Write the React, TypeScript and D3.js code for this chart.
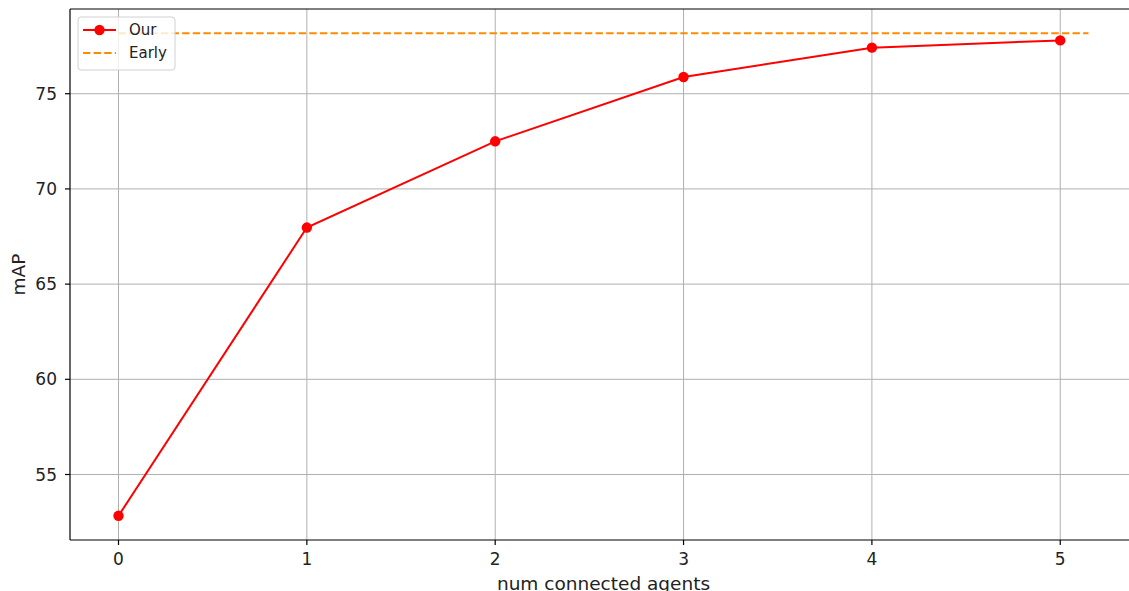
import React from "react";
import * as d3 from "d3";

const agents = [0, 1, 2, 3, 4, 5];
const ourMAP = [52.83, 67.97, 72.5, 75.88, 77.42, 77.8];
const earlyMAP = 78.18;
const earlyRange = [0, 5.15];
const xTicks = [0, 1, 2, 3, 4, 5];
const yTicks = [55, 60, 65, 70, 75];

const W = 1129;
const H = 591;
const left = 70;
const right = 1137;
const top = 9;
const bottom = 540;

export default function App() {
  const x = d3.scaleLinear().domain([-0.2575, 5.4075]).range([left, right]);
  const y = d3.scaleLinear().domain([51.56, 79.45]).range([bottom, top]);
  const line = d3
    .line<number>()
    .x((_, i) => x(agents[i]))
    .y((d) => y(d));
  const font = "DejaVu Sans, sans-serif";
  return (
    <svg
      width={W}
      height={H}
      style={{ position: "absolute", left: 0, top: 0, background: "#fff" }}
      fontFamily={font}
    >
      <defs>
        <clipPath id="plot">
          <rect x={left} y={top} width={right - left} height={bottom - top} />
        </clipPath>
      </defs>
      <rect x={0} y={0} width={W} height={H} fill="#fff" />
      {/* grid */}
      <g stroke="#b0b0b0" strokeWidth={1}>
        {xTicks.map((t) => (
          <line key={"gx" + t} x1={x(t)} x2={x(t)} y1={top} y2={bottom} />
        ))}
        {yTicks.map((t) => (
          <line key={"gy" + t} x1={left} x2={right} y1={y(t)} y2={y(t)} />
        ))}
      </g>
      {/* early line */}
      <g clipPath="url(#plot)">
        <line
          x1={x(earlyRange[0])}
          x2={x(earlyRange[1])}
          y1={y(earlyMAP)}
          y2={y(earlyMAP)}
          stroke="#ff8c00"
          strokeWidth={2}
          strokeDasharray="7.4 3.2"
        />
        <path d={line(ourMAP) || ""} fill="none" stroke="#ff0000" strokeWidth={2} />
        {ourMAP.map((v, i) => (
          <circle key={i} cx={x(agents[i])} cy={y(v)} r={5.2} fill="#ff0000" />
        ))}
      </g>
      {/* spines */}
      <g stroke="#000" strokeWidth={1.2} fill="none">
        <line x1={left} x2={left} y1={top} y2={bottom} />
        <line x1={left} x2={W} y1={bottom} y2={bottom} />
        <line x1={left} x2={W} y1={top} y2={top} />
      </g>
      {/* x ticks */}
      {xTicks.map((t) => (
        <g key={"xt" + t}>
          <line x1={x(t)} x2={x(t)} y1={bottom} y2={bottom + 5} stroke="#000" strokeWidth={1.2} />
          <text x={x(t)} y={565} textAnchor="middle" fontSize={17} fill="#222">
            {t}
          </text>
        </g>
      ))}
      {/* y ticks */}
      {yTicks.map((t) => (
        <g key={"yt" + t}>
          <line x1={left - 5} x2={left} y1={y(t)} y2={y(t)} stroke="#000" strokeWidth={1.2} />
          <text x={57} y={y(t)} dy="0.36em" textAnchor="end" fontSize={17} fill="#222">
            {t}
          </text>
        </g>
      ))}
      {/* axis labels */}
      <text x={(left + right) / 2 - 0} y={590} textAnchor="middle" fontSize={18.5} fill="#222">
        num connected agents
      </text>
      <text
        transform={`translate(25, ${(top + bottom) / 2}) rotate(-90)`}
        textAnchor="middle"
        fontSize={18.5}
        fill="#222"
      >
        mAP
      </text>
      {/* legend */}
      <g>
        <rect
          x={78}
          y={17}
          width={97}
          height={53}
          rx={3}
          fill="#fff"
          fillOpacity={0.8}
          stroke="#d0d0d0"
          strokeWidth={1}
        />
        <line x1={83} x2={116} y1={30} y2={30} stroke="#ff0000" strokeWidth={2} />
        <circle cx={99.5} cy={30} r={5.2} fill="#ff0000" />
        <text x={129} y={30} dy="0.36em" fontSize={15} fill="#222">
          Our
        </text>
        <line
          x1={83}
          x2={116}
          y1={53}
          y2={53}
          stroke="#ff8c00"
          strokeWidth={2}
          strokeDasharray="7.4 3.2"
        />
        <text x={129} y={53} dy="0.36em" fontSize={15} fill="#222">
          Early
        </text>
      </g>
    </svg>
  );
}
